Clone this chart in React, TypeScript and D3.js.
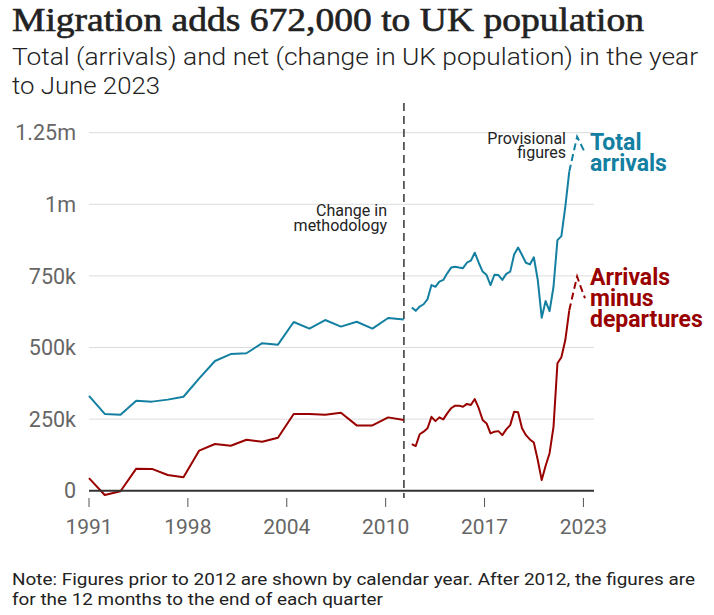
import React from 'react';
import * as d3 from 'd3';

// Annual (calendar year) estimates, thousands
const annualYears = [1991, 1992, 1993, 1994, 1995, 1996, 1997, 1998, 1999, 2000, 2001, 2002, 2003, 2004, 2005, 2006, 2007, 2008, 2009, 2010, 2011];
const annualArrivals = [331, 268, 265, 314, 311, 318, 328, 392, 453, 477, 480, 515, 510, 589, 566, 596, 573, 590, 566, 603, 598];
const annualNet = [44, -15, -2, 77, 76, 55, 47, 140, 163, 157, 178, 171, 185, 268, 268, 265, 272, 228, 228, 256, 247];

// Year ending each quarter, June 2012 to June 2023 (year, end month)
const quarterEnds: [number, number][] = [
  [2012, 6], [2012, 9], [2012, 12],
  [2013, 3], [2013, 6], [2013, 9], [2013, 12],
  [2014, 3], [2014, 6], [2014, 9], [2014, 12],
  [2015, 3], [2015, 6], [2015, 9], [2015, 12],
  [2016, 3], [2016, 6], [2016, 9], [2016, 12],
  [2017, 3], [2017, 6], [2017, 9], [2017, 12],
  [2018, 3], [2018, 6], [2018, 9], [2018, 12],
  [2019, 3], [2019, 6], [2019, 9], [2019, 12],
  [2020, 3], [2020, 6], [2020, 9], [2020, 12],
  [2021, 3], [2021, 6], [2021, 9], [2021, 12],
  [2022, 3], [2022, 6], [2022, 9], [2022, 12],
  [2023, 3], [2023, 6],
];
const quarterArrivals = [640, 628, 643, 651, 669, 718, 712, 730, 736, 759, 779, 782, 779, 777, 796, 803, 831, 796, 765, 753, 718, 754, 753, 736, 757, 765, 825, 849, 823, 796, 790, 815, 736, 604, 662, 627, 712, 875, 889, 992, 1114, 1176, 1236, 1208, 1180];
const quarterNet = [163, 156, 197, 206, 218, 258, 243, 256, 249, 270, 288, 297, 297, 293, 303, 299, 320, 288, 247, 235, 200, 206, 208, 194, 214, 229, 276, 274, 218, 194, 179, 168, 107, 37, 87, 131, 223, 445, 466, 526, 630, 690, 748, 708, 672];
const firstProvisional = 40; // YE June 2022 onwards shown dashed

const yTicks = [0, 250, 500, 750, 1000, 1250];
const yTickLabels = ['0', '250k', '500k', '750k', '1m', '1.25m'];
const xTickValues = [1992, 1998.28, 2004.56, 2010.84, 2017.12, 2023.4];
const xTickLabels = ['1991', '1998', '2004', '2010', '2017', '2023'];
const methodologyChange = 2012;

const BLUE = '#1380A1';
const RED = '#990000';
const SANS = 'Roboto, "Noto Sans", sans-serif';

export default function App() {
  const W = 714, H = 615;
  const x = d3.scaleLinear().domain([1992, 2023.5]).range([89, 585]);
  const y = d3.scaleLinear().domain([0, 1250]).range([490.7, 132.7]);
  const gridRight = 594;

  const annualT = annualYears.map((yr) => yr + 1);
  const quarterT = quarterEnds.map(([yr, m]) => yr + m / 12);

  const line = d3.line<[number, number]>().x((d) => x(d[0])).y((d) => y(d[1]));

  const pts = (ts: number[], vs: number[]) => ts.map((t, i) => [t, vs[i]] as [number, number]);
  const aArr = pts(annualT, annualArrivals);
  const aNet = pts(annualT, annualNet);
  const qArr = pts(quarterT, quarterArrivals);
  const qNet = pts(quarterT, quarterNet);

  const solid = (p: [number, number][]) => p.slice(0, firstProvisional + 1);
  const prov = (p: [number, number][]) => p.slice(firstProvisional);

  return (
    <svg width={W} height={H} style={{ position: 'absolute', left: 0, top: 0, background: '#fff' }}>
      <text x={12} y={31} fontFamily='"Liberation Serif", serif' fontSize={33} fill="#222" stroke="#222" strokeWidth={0.6} textLength={632} lengthAdjust="spacingAndGlyphs">
        Migration adds 672,000 to UK population
      </text>
      <text x={12} y={65} fontFamily={SANS} fontSize={24} fill="#222" fontWeight={300} textLength={686} lengthAdjust="spacingAndGlyphs">
        Total (arrivals) and net (change in UK population) in the year
      </text>
      <text x={12} y={94} fontFamily={SANS} fontSize={24} fill="#222" fontWeight={300} textLength={148} lengthAdjust="spacingAndGlyphs">
        to June 2023
      </text>

      {/* gridlines */}
      {yTicks.map((v, i) => (
        <g key={v}>
          {v !== 0 && <line x1={89} x2={gridRight} y1={y(v)} y2={y(v)} stroke="#dcdcdc" strokeWidth={1} />}
          <text x={76} y={y(v)} dy="0.36em" textAnchor="end" fontFamily={SANS} fontSize={21.5} fill="#666">
            {yTickLabels[i]}
          </text>
        </g>
      ))}

      {/* x ticks */}
      {xTickValues.map((t, i) => (
        <g key={t}>
          <line x1={x(t)} x2={x(t)} y1={498} y2={507} stroke="#555" strokeWidth={1} />
          <text x={x(t)} y={534} textAnchor="middle" fontFamily={SANS} fontSize={21} fill="#666">
            {xTickLabels[i]}
          </text>
        </g>
      ))}

      {/* methodology line */}
      <line x1={x(methodologyChange)} x2={x(methodologyChange)} y1={103} y2={498} stroke="#333" strokeWidth={1.5} strokeDasharray="8,5" />
      <text x={387} y={216} textAnchor="end" fontFamily={SANS} fontSize={16} fill="#222">Change in</text>
      <text x={387} y={231} textAnchor="end" fontFamily={SANS} fontSize={16} fill="#222">methodology</text>

      {/* lines */}
      <path d={line(aArr) || ''} fill="none" stroke={BLUE} strokeWidth={2} strokeLinejoin="round" />
      <path d={line(solid(qArr)) || ''} fill="none" stroke={BLUE} strokeWidth={2} strokeLinejoin="round" />
      <path d={line(prov(qArr)) || ''} fill="none" stroke={BLUE} strokeWidth={2} strokeDasharray="7,4" />
      <path d={line(aNet) || ''} fill="none" stroke={RED} strokeWidth={2} strokeLinejoin="round" />
      <path d={line(solid(qNet)) || ''} fill="none" stroke={RED} strokeWidth={2} strokeLinejoin="round" />
      <path d={line(prov(qNet)) || ''} fill="none" stroke={RED} strokeWidth={2} strokeDasharray="7,4" />

      {/* zero axis */}
      <line x1={89} x2={gridRight} y1={y(0)} y2={y(0)} stroke="#333" strokeWidth={2} />

      {/* annotations */}
      <text x={566} y={144} textAnchor="end" fontFamily={SANS} fontSize={16} fill="#222">Provisional</text>
      <text x={566} y={158} textAnchor="end" fontFamily={SANS} fontSize={16} fill="#222">figures</text>

      <text x={590} y={150} fontFamily={SANS} fontSize={23} fontWeight={700} fill={BLUE}>Total</text>
      <text x={590} y={171} fontFamily={SANS} fontSize={23} fontWeight={700} fill={BLUE}>arrivals</text>

      <text x={590} y={285} fontFamily={SANS} fontSize={23} fontWeight={700} fill={RED}>Arrivals</text>
      <text x={590} y={306} fontFamily={SANS} fontSize={23} fontWeight={700} fill={RED}>minus</text>
      <text x={590} y={327} fontFamily={SANS} fontSize={23} fontWeight={700} fill={RED}>departures</text>

      {/* note */}
      <text x={12} y={585} fontFamily={SANS} fontSize={17} fill="#222" textLength={683} lengthAdjust="spacingAndGlyphs">
        Note: Figures prior to 2012 are shown by calendar year. After 2012, the figures are
      </text>
      <text x={12} y={605} fontFamily={SANS} fontSize={17} fill="#222" textLength={371} lengthAdjust="spacingAndGlyphs">
        for the 12 months to the end of each quarter
      </text>
    </svg>
  );
}
